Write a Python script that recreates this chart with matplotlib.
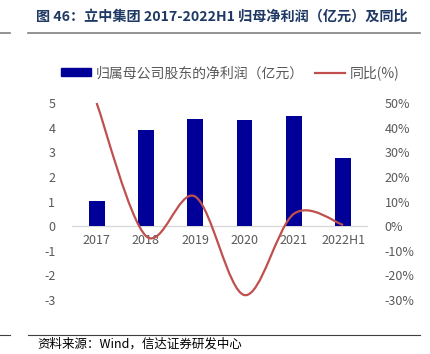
import numpy as np
import matplotlib
matplotlib.use("Agg")
import matplotlib.pyplot as plt
from matplotlib.path import Path
from matplotlib.patches import PathPatch
from matplotlib.lines import Line2D
from matplotlib.patches import Patch

plt.rcParams['font.family'] = ['Noto Sans CJK SC', 'DejaVu Sans']
plt.rcParams['axes.unicode_minus'] = False

years = ['2017', '2018', '2019', '2020', '2021', '2022H1']
profit = [1.03, 3.9, 4.35, 4.3, 4.47, 2.77]      # 亿元
yoy = [50, -4, 12, -28, 5, 0.5]                  # %

bar_color = '#000099'
line_color = '#C0504D'
tick_color = '#595959'

fig = plt.figure(figsize=(4.3, 3.54), dpi=100)

# title + rules
fig.text(0.515, 0.952, '图 46：立中集团 2017-2022H1 归母净利润（亿元）及同比',
         ha='center', va='center', fontsize=10.2, fontweight='bold', color='#1F3864')
fig.add_artist(Line2D([0.065, 0.977], [0.907, 0.907], color='#808080', lw=1.2))
fig.add_artist(Line2D([0.0, 0.023], [0.907, 0.907], color='#808080', lw=1.2))
fig.add_artist(Line2D([0.065, 0.977], [0.053, 0.053], color='#404040', lw=0.8))
fig.add_artist(Line2D([0.0, 0.023], [0.053, 0.053], color='#404040', lw=0.8))
fig.text(0.088, 0.028, '资料来源：Wind，信达证券研发中心', ha='left', va='center',
         fontsize=9, style='italic', color='#000000')

ax = fig.add_axes([0.1674, 0.1525, 0.688, 0.5565])
x = np.arange(len(years))
ax.bar(x, profit, width=0.32, color=bar_color, zorder=2)
ax.set_xlim(-0.5, len(years) - 0.5)
ax.set_ylim(-3, 5)
ax.set_yticks(range(-3, 6))
ax.axhline(0, color='#D9D9D9', lw=1, zorder=1)
for s in ax.spines.values():
    s.set_visible(False)
ax.tick_params(axis='both', length=0, labelsize=9, colors=tick_color)
ax.tick_params(axis='y', pad=12)
ax.set_xticks([])
for xi, lab in zip(x, years):
    ax.text(xi, -0.3, lab, ha='center', va='top', fontsize=9, color=tick_color)

ax2 = ax.twinx()
ax2.set_ylim(-30, 50)
ax2.set_yticks(range(-30, 60, 10))
ax2.set_yticklabels([f'{v}%' for v in range(-30, 60, 10)])
for s in ax2.spines.values():
    s.set_visible(False)
ax2.tick_params(axis='y', length=0, labelsize=9, colors=tick_color, pad=12)

# smoothed line (Catmull-Rom style bezier, like Excel's smooth line)
pts = np.column_stack([x, yoy]).astype(float)
verts = [tuple(pts[0])]
codes = [Path.MOVETO]
n = len(pts)
for i in range(n - 1):
    p0 = pts[i - 1] if i > 0 else pts[i]
    p1 = pts[i]
    p2 = pts[i + 1]
    p3 = pts[i + 2] if i + 2 < n else pts[i + 1]
    c1 = p1 + (p2 - p0) / 6.0
    c2 = p2 - (p3 - p1) / 6.0
    verts += [tuple(c1), tuple(c2), tuple(p2)]
    codes += [Path.CURVE4] * 3
ax2.add_patch(PathPatch(Path(verts, codes), fill=False, edgecolor=line_color,
                        lw=1.6, zorder=3, clip_on=False))

handles = [Patch(color=bar_color), Line2D([], [], color=line_color, lw=1.6)]
fig.legend(handles, ['归属母公司股东的净利润（亿元）', '同比(%)'],
           loc='center', bbox_to_anchor=(0.535, 0.794), ncol=2, frameon=False,
           fontsize=10, labelcolor=tick_color, handlelength=2.2,
           handleheight=0.5, columnspacing=0.8, handletextpad=0.3)

fig.savefig('out.png', dpi=100)
